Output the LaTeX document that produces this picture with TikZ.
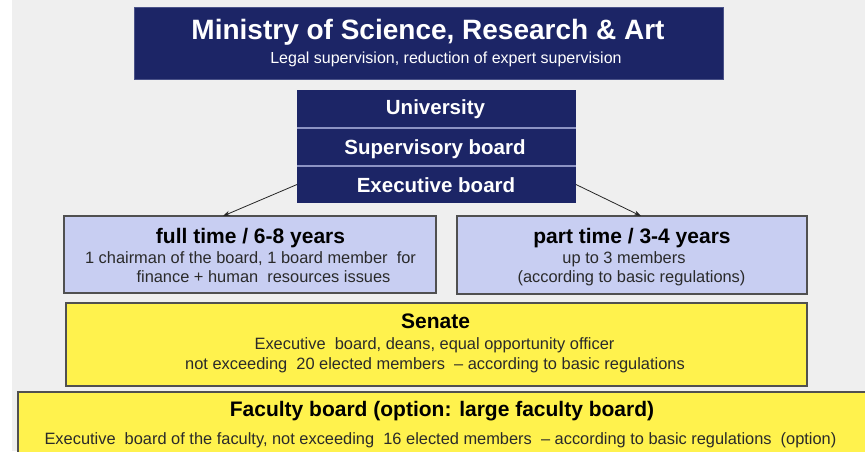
\documentclass[tikz,border=0pt]{standalone}
\usepackage{fontspec}
\setmainfont{Liberation Sans}
\usetikzlibrary{arrows.meta}
\definecolor{navy}{HTML}{1C2566}
\definecolor{navyedge}{HTML}{4A5288}
\definecolor{lblue}{HTML}{C8CEF2}
\definecolor{yel}{HTML}{FFF24D}
\definecolor{bg}{HTML}{EFEFEF}
\definecolor{sepc}{HTML}{8C93C4}
\definecolor{bord}{HTML}{505050}
\definecolor{bodytxt}{HTML}{2A2A2A}
\begin{document}
\begin{tikzpicture}[x=1pt,y=-1pt,
  boxbase/.style={anchor=north west,inner sep=0pt,outer sep=0pt},
  navybox/.style={boxbase,fill=navy,draw=navyedge,line width=0.8pt},
  bluebox/.style={boxbase,fill=lblue,draw=bord,line width=1.2pt},
  yelbox/.style={boxbase,fill=yel,draw=bord,line width=1.2pt},
  titletxt/.style={anchor=base,inner sep=0pt,text=white,font=\bfseries\fontsize{28}{30}\selectfont},
  subtxt/.style={anchor=base,inner sep=0pt,text=white,font=\fontsize{16}{18}\selectfont},
  rowtxt/.style={anchor=base,inner sep=0pt,text=white,font=\bfseries\fontsize{20.5}{22}\selectfont},
  headtxt/.style={anchor=base,inner sep=0pt,text=black,font=\bfseries\fontsize{21}{23}\selectfont},
  bodyt/.style={anchor=base,inner sep=0pt,text=bodytxt,font=\fontsize{16.4}{18}\selectfont},
  arr/.style={draw=black!85,line width=0.8pt,-{Stealth[length=7pt,width=5pt]}}
]
\useasboundingbox (0,0) rectangle (865,451);
\fill[bg] (12,0) rectangle (865,451);

% Ministry
\node[navybox,minimum width=589pt,minimum height=72pt] (min) at (134,7) {};
\node[titletxt] (mintitle) at (428,39) {Ministry of Science, Research \& Art};
\node[subtxt] (minsub) at (446,63) {Legal supervision, reduction of expert supervision};

% University stack
\node[navybox,draw=none,minimum width=279pt,minimum height=38pt] (uni) at (297,90) {};
\node[navybox,draw=none,minimum width=279pt,minimum height=38pt] (sup) at (297,128) {};
\node[navybox,draw=none,minimum width=279pt,minimum height=37pt] (exec) at (297,166) {};
\draw[sepc,line width=2pt] (uni.south west) -- (uni.south east);
\draw[sepc,line width=2pt] (sup.south west) -- (sup.south east);
\node[rowtxt] (unit) at (435.5,114) {University};
\node[rowtxt] (supt) at (435,154) {Supervisory board};
\node[rowtxt] (exect) at (436,192.5) {Executive board};

% Full time / part time
\node[bluebox,minimum width=372pt,minimum height=77pt] (full) at (64,216) {};
\node[headtxt] (fullh) at (250.5,243) {full time / 6-8 years};
\node[bodyt] (full1) at (250.5,263) {1 chairman of the board, 1 board member\ \ for};
\node[bodyt] (full2) at (263.5,282) {finance + human\ \ resources issues};

\node[bluebox,minimum width=350pt,minimum height=78pt] (part) at (457,216) {};
\node[headtxt] (parth) at (632,243) {part time / 3-4 years};
\node[bodyt] (part1) at (624,263) {up to 3 members};
\node[bodyt] (part2) at (631.5,282) {(according to basic regulations)};

% Senate
\node[yelbox,minimum width=741pt,minimum height=83pt] (sen) at (66,303) {};
\node[headtxt] (senh) at (435.5,328) {Senate};
\node[bodyt] (sen1) at (434.5,349) {Executive\ \ board, deans, equal opportunity officer};
\node[bodyt] (sen2) at (435,369.5) {not exceeding\ \ 20 elected members\ \ -- according to basic regulations};

% Faculty board
\node[yelbox,minimum width=860pt,minimum height=75pt] (fac) at (18,392) {};
\node[headtxt] (fach) at (442,416) {Faculty board (option: large faculty board)};
\node[bodyt] (fac1) at (440.5,444.5) {Executive\ \ board of the faculty, not exceeding\ \ 16 elected members\ \ -- according to basic regulations\ \ (option)};

% Connectors
\draw[arr] (exec.west) -- ([xshift=-27pt]full.north);
\draw[arr] (exec.east) -- ([xshift=9pt]part.north);
\end{tikzpicture}
\end{document}
